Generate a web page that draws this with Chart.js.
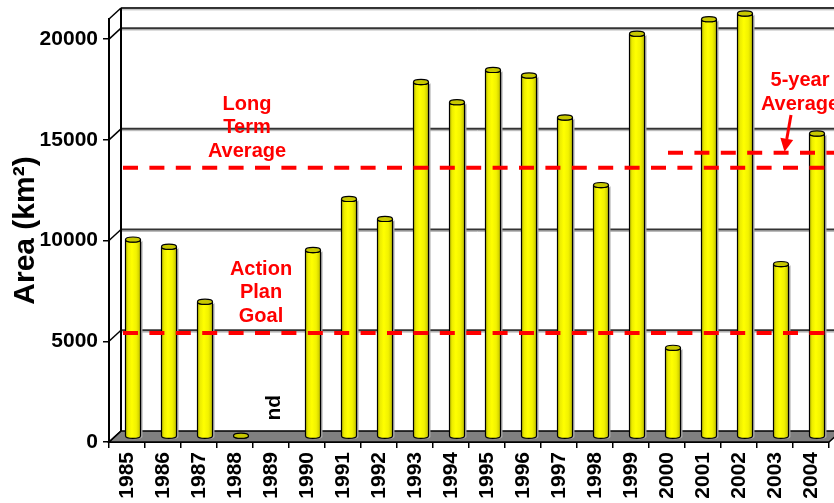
<!DOCTYPE html>
<html>
<head>
<meta charset="utf-8">
<script src="https://cdn.jsdelivr.net/npm/chart.js@4.4.1/dist/chart.umd.min.js"></script>
<style>
  html, body { margin: 0; padding: 0; background: #ffffff; }
  canvas { display: block; }
</style>
</head>
<body>
<canvas id="chart" width="834" height="503"></canvas>
<script>
// Hypoxic zone area by year (km²); null = no data
const years = ['1985', '1986', '1987', '1988', '1989', '1990', '1991', '1992', '1993', '1994',
               '1995', '1996', '1997', '1998', '1999', '2000', '2001', '2002', '2003', '2004'];
const hypoxicArea = [9774, 9422, 6688, 40, null, 9259, 11796, 10804, 17600, 16600,
                     18200, 17920, 15840, 12480, 20000, 4400, 20720, 21000, 8560, 15040];
const yTickValues = [0, 5000, 10000, 15000, 20000];
const yMax = 21000;

// Reference levels
const longTermAverage = 13200;
const fiveYearAverage = 13950;
const actionPlanGoal = 5000;
const fiveYearFrom = '2000';

// 3-D geometry of the box
const BACK = { x: 12, y: -11 };     // back wall offset
const MID = { x: 6, y: -5.5 };      // plane the cylinders stand in
const REF_SHIFT = -8.3;             // plane of the dashed reference lines
const FONT = '"Liberation Sans", Arial, Helvetica, sans-serif';

Chart.defaults.font.family = FONT;
Chart.defaults.color = '#000';

function drawCylinder(ctx, cx, top, base, w) {
  const r = w / 2, ry = 2.6;
  const l = cx - r, rt = cx + r;

  const body = (dx, dy) => {
    ctx.beginPath();
    ctx.moveTo(l + dx, top + dy);
    ctx.lineTo(l + dx, base + dy);
    ctx.ellipse(cx + dx, base + dy, r, ry, 0, Math.PI, 0, true);
    ctx.lineTo(rt + dx, top + dy);
    ctx.ellipse(cx + dx, top + dy, r, ry, 0, 0, Math.PI, false);
    ctx.closePath();
  };

  // soft shadow on the right
  ctx.fillStyle = '#a6a6a6';
  body(2, 1);
  ctx.fill();

  const g = ctx.createLinearGradient(l, 0, rt, 0);
  g.addColorStop(0, '#b8b800');
  g.addColorStop(0.18, '#eded00');
  g.addColorStop(0.42, '#ffff00');
  g.addColorStop(0.72, '#f2f200');
  g.addColorStop(1, '#c2c200');
  ctx.fillStyle = g;
  body(0, 0);
  ctx.fill();
  ctx.strokeStyle = '#000';
  ctx.lineWidth = 1.2;
  ctx.stroke();

  ctx.beginPath();
  ctx.ellipse(cx, top, r, ry, 0, 0, Math.PI * 2);
  ctx.fillStyle = '#c8c800';
  ctx.fill();
  ctx.stroke();
}

const boxPlugin = {
  id: 'box3d',
  beforeDatasetsDraw(chart) {
    const { ctx, chartArea: a, scales: { y } } = chart;
    const y0 = y.getPixelForValue(0);
    ctx.save();

    // floor
    ctx.beginPath();
    ctx.moveTo(a.left, y0);
    ctx.lineTo(a.right, y0);
    ctx.lineTo(a.right + BACK.x, y0 + BACK.y);
    ctx.lineTo(a.left + BACK.x, y0 + BACK.y);
    ctx.closePath();
    ctx.fillStyle = '#808080';
    ctx.fill();
    ctx.strokeStyle = '#000';
    ctx.lineWidth = 1.5;
    ctx.stroke();

    // back-wall gridlines and side-wall diagonals
    const gridVals = yTickValues.slice(1).concat([yMax]);
    for (const v of gridVals) {
      const fy = y.getPixelForValue(v);
      const by = fy + BACK.y;
      ctx.strokeStyle = '#b0b0b0';
      ctx.lineWidth = 1;
      ctx.beginPath();
      ctx.moveTo(a.left + BACK.x, by + 1.8);
      ctx.lineTo(chart.width, by + 1.8);
      ctx.stroke();
      ctx.strokeStyle = '#333';
      ctx.lineWidth = 2;
      ctx.beginPath();
      ctx.moveTo(a.left + BACK.x, by);
      ctx.lineTo(chart.width, by);
      ctx.stroke();
      ctx.strokeStyle = '#000';
      ctx.lineWidth = 1.5;
      ctx.beginPath();
      ctx.moveTo(a.left, fy);
      ctx.lineTo(a.left + BACK.x, by);
      ctx.stroke();
    }
    ctx.beginPath();
    ctx.moveTo(a.left, y0);
    ctx.lineTo(a.left + BACK.x, y0 + BACK.y);
    ctx.stroke();

    // back-wall left edge
    ctx.lineWidth = 2;
    ctx.beginPath();
    ctx.moveTo(a.left + BACK.x, y.getPixelForValue(yMax) + BACK.y);
    ctx.lineTo(a.left + BACK.x, y0 + BACK.y);
    ctx.stroke();
    ctx.restore();
  },
  afterDatasetsDraw(chart) {
    const { ctx, chartArea: a, scales: { x, y } } = chart;
    const meta = chart.getDatasetMeta(0);
    ctx.save();

    // cylinders
    meta.data.forEach((bar, i) => {
      if (hypoxicArea[i] == null) {
        ctx.save();
        ctx.translate(x.getPixelForValue(i) + 3, y.getPixelForValue(1700));
        ctx.rotate(-Math.PI / 2);
        ctx.font = 'bold 21px ' + FONT;
        ctx.fillStyle = '#000';
        ctx.textAlign = 'center';
        ctx.textBaseline = 'middle';
        ctx.fillText('nd', 0, 0);
        ctx.restore();
        return;
      }
      const p = bar.getProps(['x', 'y', 'base', 'width'], true);
      drawCylinder(ctx, p.x + MID.x, p.y + MID.y, p.base + MID.y, p.width);
    });

    // dashed reference lines
    ctx.strokeStyle = '#ff0000';
    ctx.lineWidth = 4;
    ctx.lineCap = 'butt';
    ctx.setLineDash([15, 11.4]);
    const refLine = (v, x0) => {
      const py = y.getPixelForValue(v) + REF_SHIFT;
      ctx.beginPath();
      ctx.moveTo(x0, py);
      ctx.lineTo(chart.width, py);
      ctx.stroke();
    };
    refLine(longTermAverage, a.left + 14);
    refLine(actionPlanGoal, a.left + 14);
    refLine(fiveYearAverage, x.getPixelForValue(years.indexOf(fiveYearFrom)) + 1);
    ctx.setLineDash([]);

    // labels
    ctx.fillStyle = '#ff0000';
    ctx.font = 'bold 20px ' + FONT;
    ctx.textAlign = 'center';
    ctx.textBaseline = 'middle';
    [['Long', 104], ['Term', 127.5], ['Average', 151]].forEach(([t, ty]) => ctx.fillText(t, 247, ty));
    [['Action', 269], ['Plan', 292.5], ['Goal', 316]].forEach(([t, ty]) => ctx.fillText(t, 261, ty));
    [['5-year', 80], ['Average', 104]].forEach(([t, ty]) => ctx.fillText(t, 800, ty));

    // arrow to the 5-year line
    const tip = { x: 784.5, y: y.getPixelForValue(fiveYearAverage) + REF_SHIFT - 1 };
    const tail = { x: 791, y: 115 };
    let dx = tip.x - tail.x, dy = tip.y - tail.y;
    const len = Math.hypot(dx, dy);
    dx /= len; dy /= len;
    const hb = { x: tip.x - 13 * dx, y: tip.y - 13 * dy };
    ctx.strokeStyle = '#ff0000';
    ctx.lineWidth = 3;
    ctx.beginPath();
    ctx.moveTo(tail.x, tail.y);
    ctx.lineTo(hb.x, hb.y);
    ctx.stroke();
    ctx.beginPath();
    ctx.moveTo(tip.x, tip.y);
    ctx.lineTo(hb.x - dy * 6.5, hb.y + dx * 6.5);
    ctx.lineTo(hb.x + dy * 6.5, hb.y - dx * 6.5);
    ctx.closePath();
    ctx.fill();

    ctx.restore();
  }
};

new Chart(document.getElementById('chart'), {
  type: 'bar',
  data: {
    labels: years,
    datasets: [{
      data: hypoxicArea,
      backgroundColor: 'rgba(0,0,0,0)',
      borderWidth: 0,
      barPercentage: 15 / 36,
      categoryPercentage: 1
    }]
  },
  options: {
    responsive: false,
    animation: false,
    devicePixelRatio: 1,
    layout: { padding: { top: 19, right: 5, left: 0, bottom: 0 } },
    plugins: { legend: { display: false }, tooltip: { enabled: false } },
    scales: {
      x: {
        offset: true,
        afterFit(scale) {
          scale.height = 61;
          scale.paddingLeft = 0;
          scale.paddingRight = 0;
        },
        grid: { offset: true, drawOnChartArea: false, tickLength: 6, color: '#000', lineWidth: 1.5 },
        border: { display: true, color: '#000', width: 2 },
        ticks: {
          autoSkip: false, minRotation: 90, maxRotation: 90, padding: 4,
          color: '#000', font: { size: 21, weight: 'bold' }
        }
      },
      y: {
        min: 0,
        max: yMax,
        afterFit(scale) {
          scale.width = 109;
          scale.paddingTop = 0;
          scale.paddingBottom = 0;
        },
        afterBuildTicks(scale) { scale.ticks = yTickValues.map(v => ({ value: v })); },
        grid: { drawOnChartArea: false, tickLength: 6, color: '#000', lineWidth: 1.5 },
        border: { display: true, color: '#000', width: 2 },
        ticks: {
          padding: 5, color: '#000', font: { size: 21, weight: 'bold' },
          callback: v => String(v)
        },
        title: {
          display: true,
          text: 'Area (km²)',
          color: '#000',
          font: { size: 30, weight: 'bold' },
          padding: { top: 8, bottom: 0 }
        }
      }
    }
  },
  plugins: [boxPlugin]
});
</script>
</body>
</html>
